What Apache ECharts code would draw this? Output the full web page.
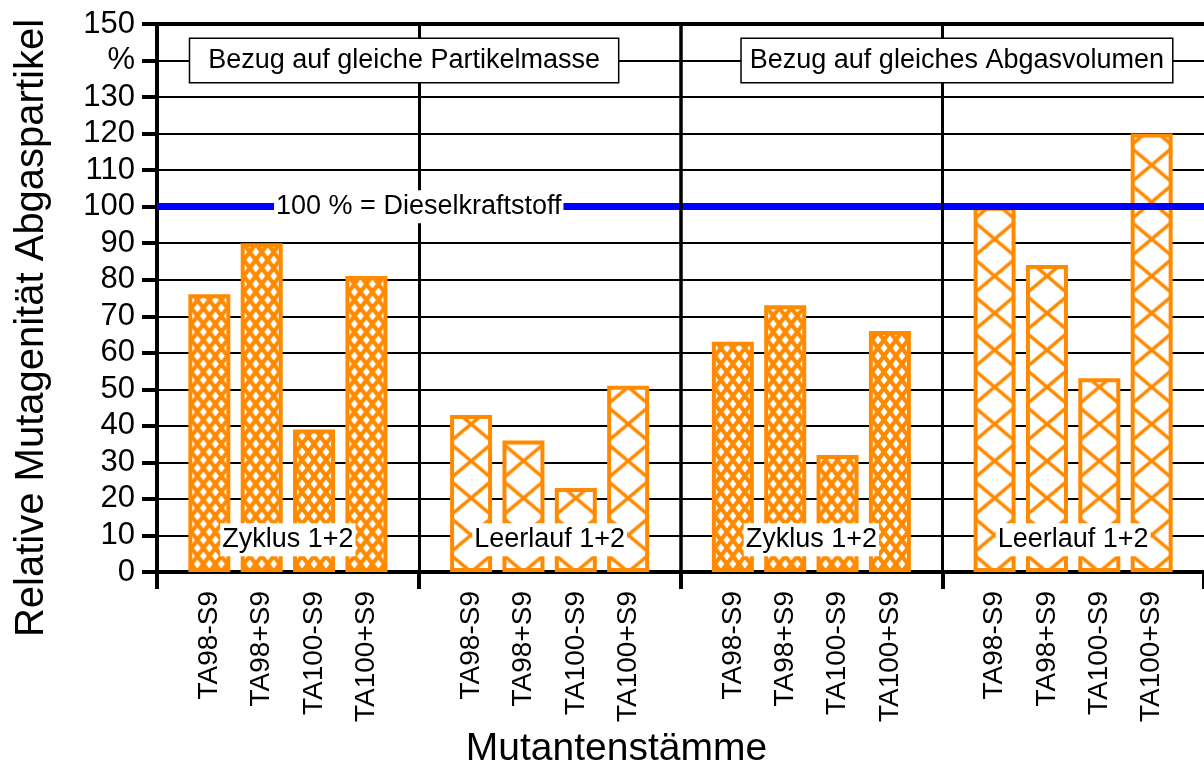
<!DOCTYPE html>
<html><head><meta charset="utf-8">
<script src="https://cdn.jsdelivr.net/npm/echarts@6/dist/echarts.min.js"></script>
<style>html,body{margin:0;padding:0;background:#fff}#c{width:1204px;height:769px}</style>
</head><body><div id="c"></div>
<script>
// ---- data ----
const strains = ['TA98-S9', 'TA98+S9', 'TA100-S9', 'TA100+S9'];
const zyklusMasse = [76, 90, 39, 81];
const leerlaufMasse = [43, 36, 23, 51];
const zyklusVolumen = [63, 73, 32, 66];
const leerlaufVolumen = [100, 84, 53, 120];
const groupValues = [zyklusMasse, leerlaufMasse, zyklusVolumen, leerlaufVolumen];
const groupNames = ['Zyklus 1+2', 'Leerlauf 1+2', 'Zyklus 1+2', 'Leerlauf 1+2'];
const panelTitles = ['Bezug auf gleiche Partikelmasse', 'Bezug auf gleiches Abgasvolumen'];
const referenceValue = 100;
const referenceLabel = '100 % = Dieselkraftstoff';
const yTickLabels = {140: '%'};
const yAxisTitle = 'Relative Mutagenität Abgaspartikel';
const xAxisTitle = 'Mutantenstämme';

// ---- layout helpers (slot positions on the x scale) ----
const SLOTS = 5; // 4 bars + 1 gap per group
const slotOf = (g, i) => g * SLOTS + i + 1;
const SANS = '"Liberation Sans",Arial,sans-serif';
const ORANGE = '#FF8A00';
const ANN = 27; // annotation font size

function hatch(W, H, w) {
  const c = document.createElement('canvas');
  c.width = W; c.height = H;
  const g = c.getContext('2d');
  g.fillStyle = '#fff'; g.fillRect(0, 0, W, H);
  g.strokeStyle = ORANGE; g.lineWidth = w;
  for (const dx of [-W, 0, W]) for (const dy of [-H, 0, H]) {
    g.beginPath();
    g.moveTo(dx, dy); g.lineTo(dx + W, dy + H);
    g.moveTo(dx + W, dy); g.lineTo(dx, dy + H);
    g.stroke();
  }
  return c;
}
const dense = {img: hatch(12, 16, 4.2), W: 12, H: 16};
const open = {img: hatch(44, 37, 3.5), W: 44, H: 37};

const chart = echarts.init(document.getElementById('c'), null, {renderer: 'canvas'});

function buildBars(pxFn) {
  const out = [];
  groupValues.forEach((vals, g) => {
    const p = (g % 2 === 0) ? dense : open;
    vals.forEach((v, i) => {
      const x = slotOf(g, i);
      const off = pxFn ? pxFn(x) : {x: 0, y: 0};
      out.push({
        value: [x, v],
        itemStyle: {
          color: {image: p.img, repeat: 'repeat', x: off.x - p.W / 2, y: off.y - p.H / 2},
          borderColor: ORANGE, borderWidth: 4
        }
      });
    });
  });
  return out;
}

const labelValues = [];
groupValues.forEach((vals, g) => vals.forEach((v, i) => labelValues.push(slotOf(g, i))));

const option = {
  animation: false,
  backgroundColor: '#fff',
  grid: {left: 157, right: 0, top: 24, bottom: 197, containLabel: false, outerBoundsMode: 'none'},
  xAxis: [{
    type: 'value', min: 0, max: groupValues.length * SLOTS,
    name: xAxisTitle, nameLocation: 'middle', nameGap: 158,
    nameTextStyle: {fontFamily: SANS, fontSize: 39, color: '#000', padding: [0, 128, 0, 0]},
    axisLine: {show: true, lineStyle: {color: '#000', width: 4}},
    axisTick: {show: true, length: 17, lineStyle: {color: '#000', width: 4},
      customValues: [0, 5, 10, 15, 20]},
    axisLabel: {show: true, rotate: 90, margin: 19, fontFamily: SANS, fontSize: 28, color: '#000',
      customValues: labelValues,
      formatter: v => strains[(Math.round(v) % SLOTS) - 1] || ''},
    splitLine: {show: false}
  }, {
    type: 'value', position: 'top', min: 0, max: groupValues.length * SLOTS,
    axisLine: {show: true, lineStyle: {color: '#000', width: 4}},
    axisTick: {show: false}, axisLabel: {show: false}, splitLine: {show: false}
  }],
  yAxis: {
    type: 'value', min: 0, max: 150, interval: 10,
    name: yAxisTitle, nameLocation: 'middle', nameRotate: 90, nameGap: 105,
    nameTextStyle: {fontFamily: SANS, fontSize: 40, color: '#000', padding: [0, 60, 0, 0]},
    axisLine: {show: true, lineStyle: {color: '#000', width: 4}},
    axisTick: {show: true, length: 15, lineStyle: {color: '#000', width: 4}},
    axisLabel: {margin: 22, fontFamily: SANS, fontSize: 31, color: '#000',
      formatter: v => (yTickLabels[v] !== undefined ? yTickLabels[v] : String(v))},
    splitLine: {show: true, lineStyle: {color: '#000', width: 2}}
  },
  series: [{
    type: 'bar', name: 'Mutagenität', barWidth: 42, z: 2,
    data: buildBars(null)
  }, {
    type: 'line', name: 'Referenz', data: [], z: 3, silent: true,
    markLine: {
      silent: true, symbol: 'none', animation: false,
      label: {show: false},
      data: [
        {yAxis: referenceValue, lineStyle: {color: '#0000FF', width: 7, type: 'solid'}},
        {xAxis: 5, lineStyle: {color: '#000', width: 3, type: 'solid'}},
        {xAxis: 10, lineStyle: {color: '#000', width: 3.5, type: 'solid'}},
        {xAxis: 15, lineStyle: {color: '#000', width: 3, type: 'solid'}}
      ]
    }
  }, {
    type: 'line', name: 'Beschriftung', data: [], z: 5, silent: true,
    markPoint: {
      silent: true, symbol: 'rect', symbolSize: 1, animation: false,
      itemStyle: {color: 'rgba(0,0,0,0)'},
      label: {show: true, position: 'inside', fontFamily: SANS, fontSize: ANN, color: '#000',
        backgroundColor: '#fff', padding: [3, 2], formatter: p => p.name},
      data: [
        {name: referenceLabel, coord: [5, referenceValue]},
        {name: groupNames[0], coord: [2.5, 8.8]},
        {name: groupNames[1], coord: [7.5, 8.8]},
        {name: groupNames[2], coord: [12.5, 8.8]},
        {name: groupNames[3], coord: [17.5, 8.8]},
        {name: panelTitles[0], coord: [4.72, 140],
          label: {borderColor: '#000', borderWidth: 1.5, padding: [9, 18, 7, 18]}},
        {name: panelTitles[1], coord: [15.28, 140],
          label: {borderColor: '#000', borderWidth: 1.5, padding: [9, 8, 7, 8]}}
      ]
    }
  }]
};
chart.setOption(option);
// align hatch patterns with each bar (style only)
const y0 = chart.convertToPixel({yAxisIndex: 0}, 0);
chart.setOption({series: [{data: buildBars(x => ({x: chart.convertToPixel({xAxisIndex: 0}, x), y: y0}))}]});
</script>
</body></html>
